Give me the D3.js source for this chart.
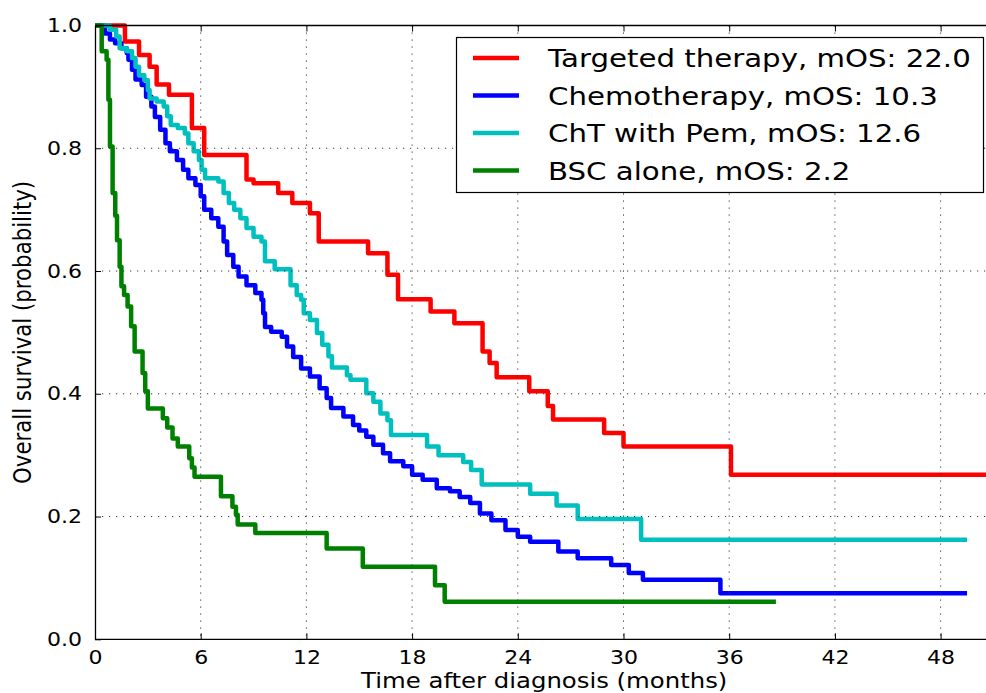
<!DOCTYPE html>
<html>
<head>
<meta charset="utf-8">
<script src="https://cdn.jsdelivr.net/npm/d3@7"></script>
<style>
html, body { margin: 0; padding: 0; background: #fff; }
svg { display: block; }
</style>
</head>
<body>
<svg id="chart" width="986" height="693"></svg>
<script>
"use strict"

var xTicks = [0, 6, 12, 18, 24, 30, 36, 42, 48];
var yTicks = [0.0, 0.2, 0.4, 0.6, 0.8, 1.0];

var seriesNames  = ['Targeted therapy, mOS: 22.0', 'Chemotherapy, mOS: 10.3',
                    'ChT with Pem, mOS: 12.6', 'BSC alone, mOS: 2.2'];
var seriesColors = ['#ff0000', '#0000ff', '#00bfbf', '#008000'];

// Kaplan-Meier steps: time (months) of each drop, survival after it
var targetedT = [0, 1.7, 2.5, 3.1, 3.5, 4.2, 5.5, 6.2, 8.6, 9.0, 10.4, 11.2, 12.2, 12.7,
                 15.5, 16.6, 17.2, 19.05, 20.4, 22.0, 22.4, 22.8, 24.65, 25.7, 26.0,
                 28.9, 30.0, 36.1, 51];
var targetedS = [1.0, 0.974, 0.952, 0.933, 0.904, 0.887, 0.833, 0.789, 0.749, 0.743, 0.727,
                 0.711, 0.694, 0.648, 0.629, 0.594, 0.554, 0.534, 0.515, 0.469, 0.450,
                 0.427, 0.404, 0.380, 0.358, 0.336, 0.314, 0.268, 0.268];

var chemoT = [0, 0.57, 0.85, 1.14, 1.5, 1.8, 1.9, 2.1, 2.3, 2.65, 2.9, 3.2, 3.4, 3.7, 4.0,
              4.25, 4.65, 5.0, 5.3, 5.7, 6.0, 6.2, 6.6, 7.0, 7.3, 7.5, 7.85, 8.15, 8.6,
              9.1, 9.45, 9.55, 9.65, 10.0, 10.6, 10.9, 11.25, 11.7, 12.2, 12.75, 13.15,
              13.4, 14.1, 14.65, 15.0, 15.4, 15.8, 16.35, 16.75, 17.5, 18.0, 18.6, 19.4,
              20.15, 20.7, 21.3, 21.85, 22.5, 23.3, 24.0, 24.7, 26.3, 27.4, 29.3, 30.3,
              31.1, 35.5, 49.5];
var chemoS = [1.0, 0.987, 0.977, 0.971, 0.963, 0.955, 0.944, 0.928, 0.912, 0.903, 0.884,
              0.868, 0.851, 0.830, 0.808, 0.795, 0.781, 0.765, 0.751, 0.740, 0.722, 0.700,
              0.686, 0.672, 0.648, 0.626, 0.607, 0.591, 0.577, 0.564, 0.553, 0.531, 0.509,
              0.501, 0.493, 0.477, 0.460, 0.441, 0.428, 0.409, 0.393, 0.377, 0.363, 0.349,
              0.340, 0.330, 0.317, 0.303, 0.290, 0.282, 0.268, 0.260, 0.246, 0.241, 0.232,
              0.222, 0.205, 0.194, 0.178, 0.167, 0.159, 0.143, 0.132, 0.121, 0.108, 0.097,
              0.075, 0.075];

var pemT = [0, 0.85, 1.2, 1.4, 1.8, 2.1, 2.3, 2.5, 2.8, 3.0, 3.1, 3.5, 3.9, 4.1, 4.3, 4.7,
            5.1, 5.3, 5.6, 5.9, 6.05, 6.25, 7.0, 7.3, 7.6, 7.9, 8.25, 8.6, 9.0, 9.45, 9.65,
            10.2, 11.1, 11.45, 11.7, 11.85, 12.2, 12.6, 12.9, 13.25, 13.45, 14.3, 14.5,
            15.4, 15.8, 16.2, 16.6, 16.8, 18.85, 19.5, 20.9, 21.35, 21.95, 24.7, 26.2,
            27.4, 31.0, 49.5];
var pemS = [1.0, 0.993, 0.982, 0.963, 0.958, 0.947, 0.933, 0.919, 0.911, 0.895, 0.881,
            0.876, 0.868, 0.852, 0.838, 0.833, 0.824, 0.808, 0.795, 0.781, 0.765, 0.751,
            0.746, 0.727, 0.711, 0.700, 0.686, 0.670, 0.656, 0.648, 0.616, 0.603, 0.577,
            0.561, 0.553, 0.531, 0.520, 0.499, 0.480, 0.461, 0.443, 0.430, 0.423, 0.401,
            0.387, 0.368, 0.357, 0.333, 0.314, 0.300, 0.289, 0.276, 0.252, 0.237, 0.218,
            0.196, 0.162, 0.162];

var bscT = [0, 0.38, 0.66, 0.76, 0.85, 1.0, 1.15, 1.25, 1.4, 1.5, 1.65, 1.85, 2.05, 2.25,
            2.7, 2.85, 3.0, 3.85, 4.1, 4.4, 4.7, 5.35, 5.5, 5.65, 7.15, 7.8, 8.0, 8.1, 9.1,
            13.15, 15.2, 19.3, 19.85, 38.65];
var bscS = [1.0, 0.958, 0.944, 0.879, 0.803, 0.727, 0.690, 0.650, 0.607, 0.575, 0.561,
            0.542, 0.510, 0.469, 0.434, 0.404, 0.376, 0.360, 0.345, 0.327, 0.314, 0.295,
            0.280, 0.265, 0.233, 0.216, 0.203, 0.187, 0.173, 0.148, 0.118, 0.088, 0.061,
            0.061];

var seriesT = [targetedT, chemoT, pemT, bscT];
var seriesS = [targetedS, chemoS, pemS, bscS];

// the picture is stretched wider than tall; text gets the same stretch
var stretch = 1.16;
var font    = "'DejaVu Sans', 'Liberation Sans', sans-serif";

var svg = d3.select('#chart');

var x = d3.scaleLinear().domain([0, 51]).range([95, 95 + 51 * 17.617]);
var y = d3.scaleLinear().domain([0, 1]).range([639.3, 25.5]);

var plotLeft = x(0), plotRight = x(51), plotTop = y(1), plotBottom = y(0);

// curves
var line = d3.line()
    .x(d => x(d[0]))
    .y(d => y(d[1]))
    .curve(d3.curveStepAfter);

for (var i = 0; i < seriesT.length; i++) {
    var pts = seriesT[i].map((t, j) => [t, seriesS[i][j]]);
    svg.append('path')
        .datum(pts)
        .attr('d', line)
        .attr('fill', 'none')
        .attr('stroke', seriesColors[i])
        .attr('stroke-width', 4.5)
        .attr('stroke-linejoin', 'round');
}

// dotted grid on top of curves
var grid = svg.append('g')
    .attr('stroke', '#333')
    .attr('stroke-width', 1)
    .attr('stroke-dasharray', '1.2,5.8');
grid.selectAll('line.vx').data(xTicks.slice(1)).enter()
    .append('line')
    .attr('x1', d => x(d)).attr('x2', d => x(d))
    .attr('y1', plotTop).attr('y2', plotBottom);
grid.selectAll('line.hy').data(yTicks.slice(1, -1)).enter()
    .append('line')
    .attr('x1', plotLeft).attr('x2', plotRight)
    .attr('y1', d => y(d)).attr('y2', d => y(d));

// axes with inward ticks
var xAxis = svg.append('g')
    .attr('transform', 'translate(0,' + plotBottom + ')')
    .call(d3.axisBottom(x).tickValues(xTicks).tickFormat(d3.format('d'))
        .tickSizeInner(-6).tickSizeOuter(0).tickPadding(11));
var xTop = svg.append('g')
    .attr('transform', 'translate(0,' + plotTop + ')')
    .call(d3.axisTop(x).tickValues(xTicks).tickFormat('')
        .tickSizeInner(-6).tickSizeOuter(0));
var yAxis = svg.append('g')
    .attr('transform', 'translate(' + plotLeft + ',0)')
    .call(d3.axisLeft(y).tickValues(yTicks).tickFormat(d3.format('.1f'))
        .tickSizeInner(-6).tickSizeOuter(0).tickPadding(11.2));

[xAxis, xTop, yAxis].forEach(function(g) {
    g.select('.domain').attr('stroke', '#000').attr('stroke-width', 1.3);
    g.selectAll('.tick line').attr('stroke', '#000').attr('stroke-width', 1);
    g.selectAll('.tick text')
        .attr('fill', '#000')
        .attr('font-family', font)
        .attr('font-size', '19px')
        .attr('transform', 'scale(' + stretch + ',1)');
});
xTop.select('.domain').attr('d', 'M' + plotLeft + ',0H986');
xAxis.select('.domain').attr('d', 'M' + plotLeft + ',0H986');

// axis labels
svg.append('text')
    .attr('transform', 'translate(' + ((plotLeft + plotRight) / 2) + ',688) scale(' + stretch + ',1)')
    .attr('text-anchor', 'middle')
    .attr('font-family', font)
    .attr('font-size', '21px')
    .attr('fill', '#000')
    .text('Time after diagnosis (months)');

svg.append('text')
    .attr('transform', 'translate(31,' + ((plotTop + plotBottom) / 2) + ') scale(' + stretch + ',1) rotate(-90)')
    .attr('text-anchor', 'middle')
    .attr('font-family', font)
    .attr('font-size', '21.3px')
    .attr('fill', '#000')
    .text('Overall survival (probability)');

// legend
var legend = svg.append('g');
legend.append('rect')
    .attr('x', 456.5).attr('y', 37.5)
    .attr('width', 527).attr('height', 155)
    .attr('fill', '#fff')
    .attr('stroke', '#000')
    .attr('stroke-width', 1.2);

seriesNames.forEach(function(name, i) {
    var ly = 58 + i * 37.5;
    legend.append('line')
        .attr('x1', 473).attr('x2', 519)
        .attr('y1', ly).attr('y2', ly)
        .attr('stroke', seriesColors[i])
        .attr('stroke-width', 4.5);
    legend.append('text')
        .attr('transform', 'translate(548,' + (ly + 9) + ') scale(' + stretch + ',1)')
        .attr('font-family', font)
        .attr('font-size', '25.2px')
        .attr('fill', '#000')
        .text(name);
});
</script>
</body>
</html>
